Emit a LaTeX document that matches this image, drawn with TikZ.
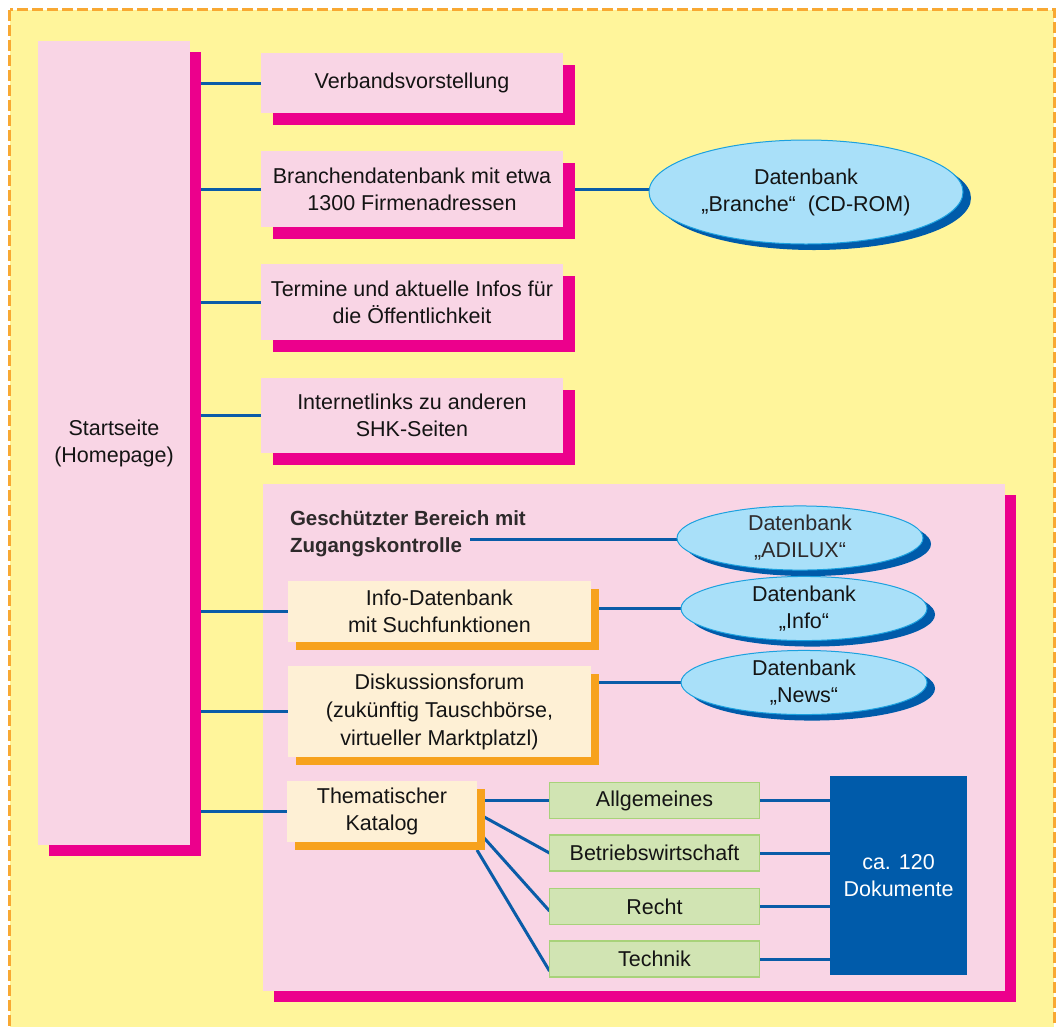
\documentclass[tikz,border=0pt]{standalone}
\usepackage{fontspec}
\setmainfont{Liberation Sans}
\usetikzlibrary{shapes.geometric,shadows,calc}
\pgfdeclarelayer{bg}
\pgfdeclarelayer{lines}
\pgfsetlayers{bg,lines,main}
\definecolor{ylw}{HTML}{FFF59B}
\definecolor{frameor}{HTML}{F8A832}
\definecolor{pnk}{HTML}{F9D5E5}
\definecolor{mag}{HTML}{EC008C}
\definecolor{lnblue}{HTML}{0A5CA8}
\definecolor{ellfill}{HTML}{A9E0F9}
\definecolor{ellborder}{HTML}{1BA1DF}
\definecolor{dkblue}{HTML}{005BAA}
\definecolor{cream}{HTML}{FEF0D5}
\definecolor{orsh}{HTML}{F7A21D}
\definecolor{grnfill}{HTML}{D1E4B3}
\definecolor{grnborder}{HTML}{A8D27A}
\definecolor{txt}{HTML}{141414}
\definecolor{gtxt}{HTML}{2E2A2B}
\begin{document}
\begin{tikzpicture}[x=1pt,y=-1pt,
  every node/.style={inner sep=0pt, outer sep=0pt, text=txt, align=center,
    font=\fontsize{21.5}{27}\selectfont},
  pinkbox/.style={fill=pnk, minimum width=302pt,
    drop shadow={shadow xshift=12pt, shadow yshift=-12pt, fill=mag, opacity=1}},
  creambox/.style={fill=cream,
    drop shadow={shadow xshift=8pt, shadow yshift=-8pt, fill=orsh, opacity=1}},
  greenbox/.style={fill=grnfill, draw=grnborder, line width=1.2pt,
    minimum width=210pt, minimum height=36pt},
  dbell/.style={ellipse, fill=ellfill, draw=ellborder, line width=1pt,
    drop shadow={shadow xshift=8pt, shadow yshift=-6pt, fill=dkblue, opacity=1}},
  conn/.style={draw=lnblue, line width=3pt}]
\useasboundingbox (0,0) rectangle (1062,1026);
\begin{pgfonlayer}{bg}
  \fill[white] (0,0) rectangle (1062,1026);
  \fill[ylw] (9.5,9.5) rectangle (1054,1029);
  \draw[frameor, line width=3pt, dash pattern=on 11pt off 4pt] (9.5,9.5) rectangle (1054,1029);
  \node[fill=pnk, minimum width=742pt, minimum height=507pt,
    drop shadow={shadow xshift=11pt, shadow yshift=-11pt, fill=mag, opacity=1}] (prot) at (634,737.5) {};
\end{pgfonlayer}

% Startseite
\node[fill=pnk, minimum width=152pt, minimum height=804pt,
  drop shadow={shadow xshift=11pt, shadow yshift=-11pt, fill=mag, opacity=1}] (start) at (114,443) {Startseite\\(Homepage)};

% pink boxes
\node[pinkbox, minimum height=60pt] (b1) at (412,83) {Verbandsvorstellung};
\node[pinkbox, minimum height=76pt] (b2) at (412,189) {Branchendatenbank mit etwa\\1300 Firmenadressen};
\node[pinkbox, minimum height=76pt] (b3) at (412,302) {Termine und aktuelle Infos für\\die Öffentlichkeit};
\node[pinkbox, minimum height=75pt] (b4) at (412,415.5) {Internetlinks zu anderen\\SHK-Seiten};

% database ellipse Branche
\node[dbell, minimum width=314pt, minimum height=104pt] (br) at (806,192) {Datenbank\\„Branche“\ \ (CD-ROM)};

% protected area
\node[anchor=west, align=left, text=gtxt, font=\fontsize{20.5}{27}\selectfont\bfseries] (gesch) at (290,533.5) {Geschützter Bereich mit\\Zugangskontrolle};
\coordinate (gz) at (470,539);
\node[dbell, minimum width=246pt, minimum height=62pt, text=gtxt] (adi) at (800,538) {Datenbank\\„ADILUX“};
\node[creambox, minimum width=303pt, minimum height=61pt] (info) at (439.5,611.5) {Info-Datenbank\\mit Suchfunktionen};
\node[dbell, minimum width=246pt, minimum height=63pt] (infoE) at (804,608.5) {Datenbank\\„Info“};
\node[creambox, minimum width=303pt, minimum height=91pt, font=\fontsize{21.5}{28}\selectfont] (disk) at (439.5,711.5) {Diskussionsforum\\(zukünftig Tauschbörse,\\virtueller Marktplatzl)};
\node[dbell, minimum width=246pt, minimum height=61pt] (news) at (804,682.5) {Datenbank\\„News“};
\node[creambox, minimum width=190pt, minimum height=61pt] (them) at (382,811.5) {Thematischer\\Katalog};

% green boxes
\node[greenbox] (g1) at (654.5,800.5) {Allgemeines};
\node[greenbox] (g2) at (654.5,853) {Betriebswirtschaft};
\node[greenbox] (g3) at (654.5,906.5) {Recht};
\node[greenbox] (g4) at (654.5,959) {Technik};

% documents
\node[fill=dkblue, text=white, minimum width=137pt, minimum height=199pt] (docs) at (898.5,875.5) {ca. 120\\Dokumente};

% connectors
\begin{pgfonlayer}{lines}
  \foreach \n in {b1,b2,b3,b4,info,disk,them}
    \draw[conn] (start.east |- \n.west) -- (\n.west);
  \draw[conn] (b2.east) -- (b2.east -| br.west);
  \draw[conn] (gz) -- (gz -| adi.west);
  \draw[conn] (infoE.west -| info.east) -- (infoE.west);
  \draw[conn] (news.west -| disk.east) -- (news.west);
  \draw[conn] (them.east |- g1.west) -- (g1.west);
  \draw[conn] ($(them.east)+(0,1.5)$) -- (g2.west);
  \draw[conn] ($(them.east)+(0,18.5)$) -- ($(g3.west)+(0,4.5)$);
  \draw[conn] ($(them.east)+(0,38.5)$) -- ($(g4.west)+(0,12)$);
  \foreach \n in {g1,g2,g3,g4}
    \draw[conn] (\n.east) -- (\n.east -| docs.west);
\end{pgfonlayer}
\end{tikzpicture}
\end{document}
